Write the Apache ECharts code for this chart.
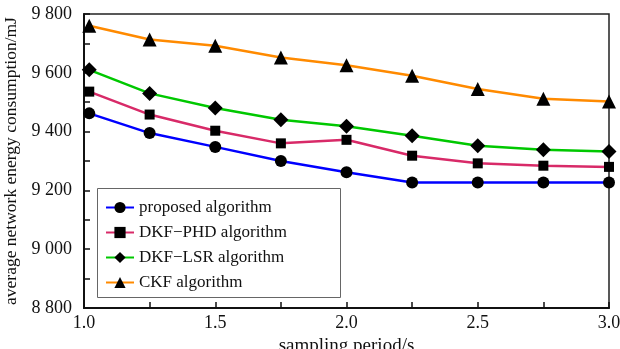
<!DOCTYPE html>
<html>
<head>
<meta charset="utf-8">
<script src="https://cdn.jsdelivr.net/npm/echarts@6/dist/echarts.min.js"></script>
<style>
  html, body { margin: 0; padding: 0; background: #fff; }
  #chart { width: 620px; height: 349px; }
</style>
</head>
<body>
<div id="chart"></div>
<script>
// sampling period (s)
const periods = [1.02, 1.25, 1.5, 1.75, 2.0, 2.25, 2.5, 2.75, 3.0];

// average network energy consumption (mJ)
const proposed = [9462, 9395, 9348, 9300, 9262, 9227, 9227, 9227, 9227];
const dkfPhd = [9536, 9458, 9403, 9360, 9372, 9318, 9292, 9284, 9280];
const dkfLsr = [9610, 9530, 9480, 9440, 9418, 9386, 9352, 9338, 9332];
const ckf = [9760, 9713, 9692, 9652, 9626, 9590, 9545, 9512, 9502];

const seriesNames = ['proposed algorithm', 'DKF\u2212PHD algorithm', 'DKF\u2212LSR algorithm', 'CKF algorithm'];

const font = 'Liberation Serif';

const chart = echarts.init(document.getElementById('chart'));

const pairs = (ys) => periods.map((x, i) => [x, ys[i]]);

const makeSeries = (name, ys, color, symbol, size) => ({
  name: name,
  type: 'line',
  data: pairs(ys),
  symbol: symbol,
  symbolSize: size,
  lineStyle: { color: color, width: 2.5 },
  itemStyle: { color: '#000' },
  z: 3,
});

const option = {
  animation: false,
  grid: {
    left: 84,
    right: 11,
    top: 14,
    bottom: 41,
    outerBoundsMode: 'none',
    containLabel: false,
    show: true,
    borderColor: '#222',
    borderWidth: 1.5,
  },
  graphic: [{
    type: 'rect',
    left: 97,
    top: 188,
    shape: { width: 243, height: 109 },
    style: { fill: '#fff', stroke: '#666', lineWidth: 1 },
    z: 1,
  }],
  legend: {
    orient: 'vertical',
    left: 100,
    top: 194,
    itemWidth: 28,
    itemHeight: 14,
    itemGap: 8,
    textStyle: { fontFamily: font, fontSize: 17, color: '#111' },
    data: seriesNames,
    z: 5,
  },
  xAxis: {
    type: 'value',
    min: 1,
    max: 3,
    interval: 0.25,
    name: 'sampling period/s',
    nameLocation: 'middle',
    nameGap: 25,
    nameTextStyle: { fontFamily: font, fontSize: 19, color: '#111' },
    axisLine: { lineStyle: { color: '#111', width: 2 } },
    axisTick: { inside: true, length: 6, lineStyle: { color: '#111', width: 1.5 } },
    axisLabel: {
      fontFamily: font,
      fontSize: 18,
      color: '#111',
      margin: 6,
      formatter: (v) => (Math.abs(v * 2 - Math.round(v * 2)) < 1e-6 ? v.toFixed(1) : ''),
    },
    splitLine: { show: false },
  },
  yAxis: {
    type: 'value',
    min: 8800,
    max: 9800,
    interval: 100,
    name: 'average network energy consumption/mJ',
    nameLocation: 'middle',
    nameGap: 63,
    nameTextStyle: { fontFamily: font, fontSize: 17.5, color: '#111', padding: [0, 0, 0, 0] },
    axisLine: { lineStyle: { color: '#111', width: 2 } },
    axisTick: { inside: true, length: 6, lineStyle: { color: '#111', width: 1.5 } },
    axisLabel: {
      fontFamily: font,
      fontSize: 18,
      color: '#111',
      margin: 12,
      formatter: (v) => (v % 200 === 0 ? String(v).replace(/(\d)(\d{3})$/, '$1 $2') : ''),
    },
    splitLine: { show: false },
  },
  series: [
    makeSeries(seriesNames[0], proposed, '#0000ff', 'circle', 12),
    makeSeries(seriesNames[1], dkfPhd, '#d82a68', 'rect', 10),
    makeSeries(seriesNames[2], dkfLsr, '#00c800', 'diamond', 15),
    makeSeries(seriesNames[3], ckf, '#ff8a00', 'triangle', 14),
  ],
};

chart.setOption(option);
</script>
</body>
</html>
